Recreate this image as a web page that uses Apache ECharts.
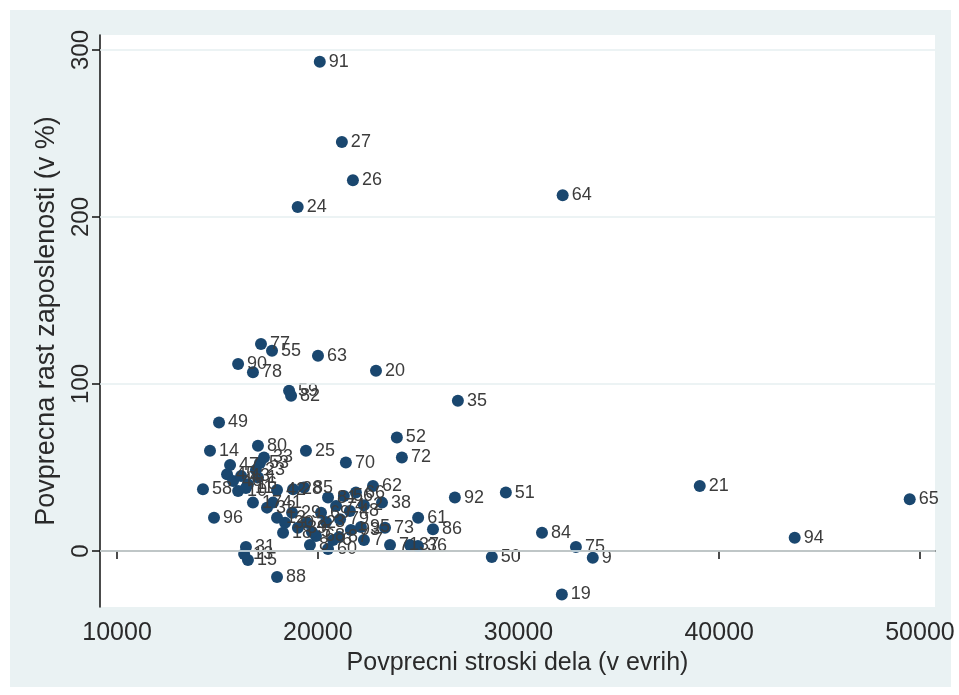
<!DOCTYPE html>
<html><head><meta charset="utf-8">
<script src="https://cdn.jsdelivr.net/npm/echarts@6/dist/echarts.min.js"></script>
<style>html,body{margin:0;padding:0;background:#fff;}#c{width:959px;height:695px;}</style>
</head><body><div id="c"></div>
<script>
const codes = ['91','27','26','24','64','77','55','90','78','63','20','59','82','35','49','14','80','25','52','70','72','62','38','92','51','21','65','58','96','61','86','73','84','75','9','94','50','19','60','31','15','13','88','71','37','36',
 '47','45','46','43','16','53','33','23','10','11','42','28','85','41','17','32','12','18','29','39','22','68','69','81','74','56','66','79','48','93','87','95','8','30','2','1','3','5','6','7'];
const laborCost = [20100,21200,21750,19000,32200,17170,17720,16030,16770,20010,22900,18570,18670,26980,15080,14630,17020,19410,23940,21400,24190,22750,23200,26830,29370,39030,49490,14280,14830,25000,25740,23350,31170,32860,33700,43760,28670,32160,20510,16420,16520,16330,17970,23600,24590,24990,
 15630,15480,15780,16180,16520,17120,17320,16920,16030,16420,17970,18770,19310,17770,16770,17470,17970,18270,18720,19010,19460,19910,20160,20510,20910,21300,21900,21110,21600,21650,21060,22150,19610,18370,22300,17020,20410,19710,20760,22300];
const empGrowth = [293,245,222,206,213,124,120,112,107,117,108,96,93,90,77,60,63,60,68,53,56,39,29,32,35,39,31,37,20,20,13,14,11,2.4,-4,8,-3.6,-26,1.2,2.4,-5.4,-1.8,-15.6,3.6,3.6,3,
 51.5,46,42,45,40,52.7,56,48.5,36,37.7,36.5,37,38,29,29,26,20,11,23,14,17,9,23,32,27,33,35,19,24,12.6,8.4,14.4,3.6,17,27.5,44,17.4,11.4,6.6,6.6];
const xTicks = [10000,20000,30000,40000,50000];
const yTicks = [0,100,200,300];

const pts = codes.map((c,i)=>({name:c, value:[laborCost[i], empGrowth[i]]}));
const chart = echarts.init(document.getElementById('c'), null, {renderer:'canvas'});
const FONT = 'Liberation Sans, Arial, sans-serif';
chart.setOption({
  backgroundColor:'#fff',
  animation:false,
  graphic:[{type:'rect', z:-10, shape:{x:10,y:10,width:941,height:677}, style:{fill:'#eaf2f3'}}],
  grid:{left:100, right:24, top:35, bottom:88, show:true, backgroundColor:'#fff', borderWidth:0},
  xAxis:{type:'value', min:9150, max:50750,
    name:'Povprecni stroski dela (v evrih)', nameLocation:'middle', nameGap:40,
    nameTextStyle:{fontFamily:FONT, fontSize:25, color:'#2a2a2a'},
    axisLine:{show:true, lineStyle:{color:'#111', width:1.5}},
    axisTick:{show:true, length:8, customValues:xTicks, lineStyle:{color:'#111', width:1.5}},
    axisLabel:{customValues:xTicks, margin:14, fontFamily:FONT, fontSize:25, color:'#2a2a2a', formatter:v=>String(v)},
    splitLine:{show:false}},
  yAxis:{type:'value', min:-33.5, max:309,
    name:'Povprecna rast zaposlenosti (v %)', nameLocation:'middle', nameGap:40,
    nameTextStyle:{fontFamily:FONT, fontSize:27, color:'#2a2a2a'},
    axisLine:{show:true, lineStyle:{color:'#111', width:1.5}},
    axisTick:{show:true, length:8, customValues:yTicks, lineStyle:{color:'#111', width:1.5}},
    axisLabel:{customValues:yTicks, rotate:90, margin:7, fontFamily:FONT, fontSize:24, color:'#2a2a2a', formatter:v=>String(v)},
    splitLine:{show:false}},
  series:[
    {type:'line', data:[], z:1, silent:true,
     markLine:{silent:true, symbol:'none', label:{show:false},
       lineStyle:{color:'#e6eff1', type:'solid', width:1.5},
       data: yTicks.map(v=>({yAxis:v}))}},
    {type:'scatter', z:3, data:pts, symbolSize:12,
     itemStyle:{color:'#1a476f', opacity:1},
     label:{show:true, position:'right', distance:3, formatter:'{b}', fontFamily:FONT, fontSize:18, color:'#3c3c3c'},
     labelLayout:{hideOverlap:false}}
  ]
});
</script></body></html>
